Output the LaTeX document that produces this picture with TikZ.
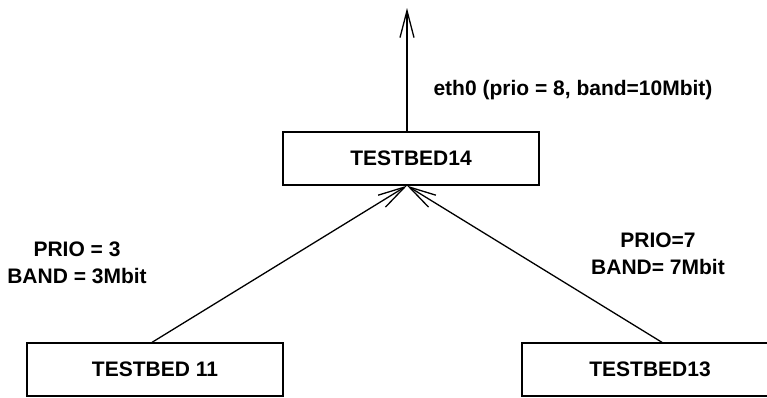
\documentclass[tikz,border=0pt]{standalone}
\usepackage{fontspec}
\setmainfont{Liberation Sans}
\usetikzlibrary{arrows.meta}
\begin{document}
\begin{tikzpicture}[x=1pt,y=-1pt,
  lw/.style={line width=1.3pt},
  hostbox/.style={draw,lw,minimum width=256pt,minimum height=53pt,inner sep=0pt,
    font=\fontsize{21}{27}\selectfont\bfseries},
  lbl/.style={align=center,inner sep=0pt,font=\fontsize{21}{27}\selectfont\bfseries},
  arr/.style={lw,-{Straight Barb[length=27pt,width=14pt,line width=1.3pt]}}]
\useasboundingbox (0,0) rectangle (767,397);
\clip (0,0) rectangle (767,397);
\node[hostbox] (t14) at (411,158.5) {TESTBED14};
\node[hostbox] (t11) at (155,369.5) {TESTBED 11};
\node[hostbox] (t13) at (650,369.5) {TESTBED13};
\coordinate (up) at (407,8);
\node[lbl] (eth) at (573,90) {eth0 (prio = 8, band=10Mbit)};
\node[lbl] (l11) at (77,263) {PRIO = 3\\BAND = 3Mbit};
\node[lbl] (l13) at (658,254) {PRIO=7\\BAND= 7Mbit};
\draw[arr] ([xshift=-4pt]t14.north) -- (up);
\draw[arr] ([xshift=-3pt]t11.north) -- ([xshift=-4pt]t14.south);
\draw[arr] ([xshift=12pt]t13.north) -- ([xshift=-4pt]t14.south);
\end{tikzpicture}
\end{document}
